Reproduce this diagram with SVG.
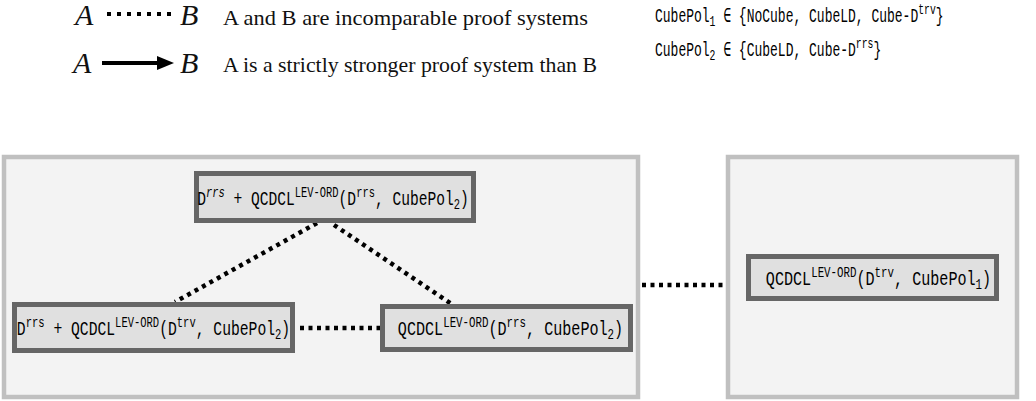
<svg xmlns="http://www.w3.org/2000/svg" width="1036" height="401" viewBox="0 0 1036 401">
<defs>
<style>
.container{fill:#f3f3f3;stroke:#c0c0c0;stroke-width:4.5}
.node{fill:#e0e0e0;stroke:#666666;stroke-width:5}
.tt{font-family:"Liberation Mono","DejaVu Sans Mono",monospace;font-size:21px;fill:#000}
.sup{font-size:15px}
.leg{font-family:"Liberation Serif","DejaVu Serif",serif;font-size:22px;fill:#111}
.var{font-family:"Liberation Serif","DejaVu Serif",serif;font-size:30px;font-style:italic;fill:#111}
.dot{stroke:#000;stroke-width:4.5;stroke-dasharray:4 4.5;fill:none}
</style>
</defs>
<rect width="1036" height="401" fill="#ffffff"/>
<g id="legend">
<text class="var" x="75" y="25">A</text>
<line class="dot" x1="107" y1="14" x2="176" y2="14" style="stroke-dasharray:4 6;stroke-width:4"/>
<text class="var" x="180" y="25">B</text>
<text class="leg" x="223" y="25" textLength="365" lengthAdjust="spacingAndGlyphs">A and B are incomparable proof systems</text>
<text class="var" x="73" y="73">A</text>
<line x1="102" y1="63" x2="160" y2="63" stroke="#000" stroke-width="4"/>
<polygon points="157,56 174,63 157,70" fill="#000"/>
<text class="var" x="180" y="73">B</text>
<text class="leg" x="223" y="72" textLength="374" lengthAdjust="spacingAndGlyphs">A is a strictly stronger proof system than B</text>
<text class="tt" style="font-size:20px" transform="translate(655,22) scale(0.65,1)">CubePol<tspan class="sup" dy="4">1</tspan><tspan dy="-4"> ∈ {NoCube, CubeLD, Cube-D</tspan><tspan class="sup" dy="-8">trv</tspan><tspan dy="8">}</tspan></text>
<text class="tt" style="font-size:20px" transform="translate(655,56) scale(0.65,1)">CubePol<tspan class="sup" dy="4">2</tspan><tspan dy="-4"> ∈ {CubeLD, Cube-D</tspan><tspan class="sup" dy="-8">rrs</tspan><tspan dy="8">}</tspan></text>
</g>
<g id="container-left"><rect class="container" x="4" y="157" width="634" height="240"/></g>
<g id="container-right"><rect class="container" x="728" y="157" width="289" height="240"/></g>
<g id="connectors">
<line class="dot" x1="317" y1="223" x2="175" y2="302"/>
<line class="dot" x1="334" y1="225" x2="453" y2="305"/>
<line class="dot" x1="300" y1="328" x2="380" y2="328"/>
<line class="dot" x1="642" y1="285" x2="726" y2="285"/>
</g>
<g id="node-top">
<rect class="node" x="196.5" y="173.5" width="277" height="47"/>
<text class="tt" text-anchor="middle" transform="translate(333,205) scale(0.695,1)">D<tspan class="sup" dy="-8" font-style="italic">rrs</tspan><tspan dy="8"> + QCDCL</tspan><tspan class="sup" dy="-8">LEV-ORD</tspan><tspan dy="8">(D</tspan><tspan class="sup" dy="-8">rrs</tspan><tspan dy="8">, CubePol</tspan><tspan class="sup" dy="4">2</tspan><tspan dy="-4">)</tspan></text>
</g>
<g id="node-bottom-left">
<rect class="node" x="14.5" y="304.5" width="278" height="46"/>
<text class="tt" text-anchor="middle" transform="translate(153.5,335) scale(0.7,1)">D<tspan class="sup" dy="-8">rrs</tspan><tspan dy="8"> + QCDCL</tspan><tspan class="sup" dy="-8">LEV-ORD</tspan><tspan dy="8">(D</tspan><tspan class="sup" dy="-8">trv</tspan><tspan dy="8">, CubePol</tspan><tspan class="sup" dy="4">2</tspan><tspan dy="-4">)</tspan></text>
</g>
<g id="node-bottom-right">
<rect class="node" x="382.5" y="306.5" width="248" height="43"/>
<text class="tt" text-anchor="middle" transform="translate(510.5,335) scale(0.72,1)">QCDCL<tspan class="sup" dy="-8">LEV-ORD</tspan><tspan dy="8">(D</tspan><tspan class="sup" dy="-8">rrs</tspan><tspan dy="8">, CubePol</tspan><tspan class="sup" dy="4">2</tspan><tspan dy="-4">)</tspan></text>
</g>
<g id="node-right">
<rect class="node" x="748.5" y="256.5" width="248" height="42"/>
<text class="tt" text-anchor="middle" transform="translate(878.5,285) scale(0.72,1)">QCDCL<tspan class="sup" dy="-8">LEV-ORD</tspan><tspan dy="8">(D</tspan><tspan class="sup" dy="-8">trv</tspan><tspan dy="8">, CubePol</tspan><tspan class="sup" dy="4">1</tspan><tspan dy="-4">)</tspan></text>
</g>
</svg>
